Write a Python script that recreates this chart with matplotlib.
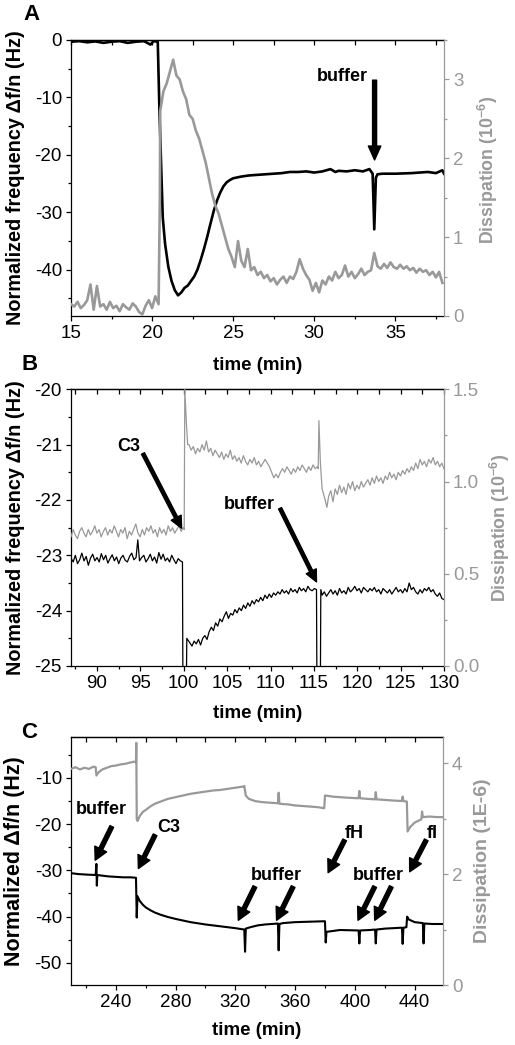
import matplotlib.pyplot as plt
import numpy as np
from matplotlib.ticker import MultipleLocator, NullFormatter

plt.rcParams['font.family'] = ['Liberation Sans', 'DejaVu Sans']
plt.rcParams['mathtext.fontset'] = 'custom'
plt.rcParams['mathtext.rm'] = 'Liberation Sans'
plt.rcParams['mathtext.bf'] = 'Liberation Sans:bold'
plt.rcParams['axes.unicode_minus'] = False

GRAY = '#999999'

# ---------------- panel A data ----------------
a_freq_t = [15.0, 15.5, 16.0, 16.5, 17.0, 17.5, 18.0, 18.5, 19.0, 19.5, 19.9, 20.1, 20.35,
            20.45, 20.66, 20.8, 21.0, 21.2, 21.4, 21.6, 21.8, 22.0, 22.2, 22.4, 22.6, 22.8,
            23.0, 23.2, 23.4, 23.6, 23.8, 24.0, 24.2, 24.4, 24.6, 24.8, 25.0, 25.5, 26.0,
            26.5, 27.0, 27.5, 28.0, 28.5, 29.0, 29.5, 30.0, 30.5, 31.0, 31.3, 31.5, 32.0,
            32.5, 33.0, 33.4, 33.6, 33.7, 33.8, 33.9, 34.2, 35.0, 36.0, 37.0, 37.5, 37.9, 38.0]
a_freq = [-0.3, -0.2, -0.4, -0.25, -0.5, -0.3, -0.2, -0.5, -0.3, -0.2, -0.8, -0.2, -0.3,
          -12.0, -31.0, -35.5, -39.5, -42.0, -43.6, -44.5, -44.0, -43.2, -42.8, -42.0, -41.2, -40.0,
          -38.3, -36.4, -34.3, -32.0, -29.8, -28.0, -26.6, -25.5, -24.8, -24.4, -24.1, -23.8, -23.6,
          -23.5, -23.4, -23.3, -23.2, -23.0, -23.0, -22.9, -23.1, -22.9, -22.5, -23.0, -22.8, -22.9,
          -22.7, -22.9, -22.5, -23.3, -33.0, -24.0, -23.4, -23.3, -23.3, -23.2, -23.0, -23.2, -22.7, -23.3]

a_diss_base = [0.15, 0.12, 0.18, 0.10, 0.14, 0.20, 0.40, 0.08, 0.38, 0.12,
               0.15, 0.08, 0.18, 0.10, 0.13, 0.06, 0.15, 0.11, 0.08, 0.16,
               0.12, 0.05, 0.02, 0.13, 0.20, 0.10, 0.25, 0.15]
a_diss_rise = [2.60, 2.85, 2.95, 3.10, 3.25, 3.05, 3.00, 2.85, 2.75, 2.55,
               2.50, 2.35, 2.25, 2.10, 1.95, 1.75, 1.55, 1.40, 1.30, 1.15,
               1.00, 0.85, 0.75]
a_diss_tail = [0.62, 0.95, 0.70, 0.62, 0.85, 0.58, 0.62, 0.52, 0.56, 0.48,
               0.52, 0.44, 0.48, 0.40, 0.46, 0.50, 0.42, 0.50, 0.47, 0.56,
               0.72, 0.60, 0.52, 0.46, 0.32, 0.42, 0.30, 0.45, 0.40, 0.50,
               0.45, 0.56, 0.48, 0.52, 0.64, 0.50, 0.56, 0.48, 0.53, 0.60,
               0.52, 0.56, 0.58, 0.80, 0.63, 0.60, 0.66, 0.61, 0.68, 0.62,
               0.60, 0.65, 0.60, 0.63, 0.58, 0.61, 0.55, 0.60, 0.56, 0.58,
               0.52, 0.56, 0.49, 0.56, 0.42]

# ---------------- panel B data ----------------
b_freq_1 = [-23.05, -23.12, -23.00, -23.15, -23.08, -22.96, -23.10, -23.02, -23.18, -23.05,
            -22.98, -23.10, -23.04, -23.12, -22.97, -23.08, -23.00, -23.14, -23.06, -22.99,
            -23.10, -23.03, -23.15, -23.05, -23.00, -23.09, -23.12, -23.02, -22.96, -23.08,
            -23.04]
b_freq_2 = [-23.10, -23.04, -23.00, -23.12, -23.06, -22.98, -23.10, -23.03, -23.14, -22.95,
            -23.07, -22.98, -23.10, -23.05, -23.12, -23.00, -23.08, -23.15, -23.06, -23.10,
            -23.12]
b_freq_3 = [-24.58, -24.64, -24.55, -24.60, -24.52, -24.62, -24.50, -24.45, -24.52, -24.38,
            -24.30, -24.36, -24.22, -24.28, -24.15, -24.20, -24.10, -24.02, -24.14, -24.05,
            -24.08, -23.98, -24.04, -23.95, -24.00, -23.90, -23.96, -23.86, -23.92, -23.82,
            -23.88, -23.80, -23.84, -23.76, -23.82, -23.72, -23.78, -23.70, -23.76, -23.68,
            -23.72, -23.66, -23.70, -23.62, -23.68, -23.64, -23.70, -23.60, -23.66, -23.62,
            -23.68, -23.58, -23.64, -23.60, -23.66, -23.56, -23.62, -23.64, -23.60, -23.62]
b_freq_4 = [-23.72, -23.66, -23.74, -23.68, -23.62, -23.70, -23.64, -23.72, -23.60, -23.68,
            -23.64, -23.70, -23.58, -23.66, -23.62, -23.56, -23.64, -23.60, -23.68, -23.58,
            -23.62, -23.66, -23.60, -23.64, -23.58, -23.66, -23.62, -23.70, -23.60, -23.64,
            -23.68, -23.62, -23.70, -23.64, -23.58, -23.66, -23.62, -23.68, -23.60, -23.66,
            -23.50, -23.62, -23.58, -23.66, -23.70, -23.62, -23.68, -23.60, -23.64, -23.58,
            -23.66, -23.62, -23.70, -23.74, -23.68, -23.78, -23.80]

b_diss_1 = [0.70, 0.74, 0.71, 0.69, 0.73, 0.75, 0.72, 0.70, 0.74, 0.71,
            0.73, 0.76, 0.72, 0.74, 0.70, 0.73, 0.75, 0.71, 0.74, 0.72,
            0.76, 0.73, 0.70, 0.74, 0.72, 0.75, 0.69, 0.73, 0.71, 0.74,
            0.77, 0.72, 0.70, 0.74, 0.71, 0.75, 0.73, 0.76, 0.72, 0.74,
            0.70, 0.75, 0.72, 0.74, 0.71, 0.76, 0.73, 0.75, 0.72, 0.74,
            0.76, 0.73, 0.75]
b_diss_2 = [1.20, 1.17, 1.19, 1.15, 1.18, 1.16, 1.20, 1.17, 1.22, 1.16,
            1.18, 1.14, 1.17, 1.15, 1.13, 1.16, 1.12, 1.15, 1.13, 1.17,
            1.12, 1.14, 1.11, 1.13, 1.10, 1.14, 1.11, 1.09, 1.12, 1.10,
            1.13, 1.09, 1.11, 1.08, 1.10, 1.12, 1.10, 1.08, 1.05, 1.02,
            1.04, 1.02, 1.05, 1.07, 1.05, 1.08, 1.06, 1.04, 1.07, 1.05,
            1.08, 1.06, 1.09, 1.07, 1.05, 1.08, 1.06, 1.09, 1.07, 1.08]
b_diss_3 = [0.92, 0.95, 0.89, 0.96, 0.93, 0.98, 0.94, 0.97, 0.93, 0.99,
            0.96, 1.00, 0.95, 0.98, 0.96, 1.00, 0.97, 0.99, 1.01, 0.98,
            1.02, 0.99, 1.03, 1.00, 1.02, 0.99, 1.03, 1.01, 1.05, 1.02,
            1.04, 1.01, 1.05, 1.03, 1.06, 1.04, 1.07, 1.05, 1.08, 1.06,
            1.10, 1.07, 1.12, 1.09, 1.11, 1.08, 1.12, 1.10, 1.13, 1.09,
            1.11, 1.08, 1.10, 1.07]

# ---------------- panel C data ----------------
c_freq_t = [210, 215, 220, 226.5, 227, 227.3, 227.6, 230, 235, 240, 245, 250, 253.5, 254, 254.5,
            256, 258, 260, 263, 266, 270, 275, 280, 290, 300, 310, 320, 326, 326.5, 327, 330,
            335, 340, 348.5, 349, 349.5, 352, 360, 370, 380, 380.5, 381, 390, 402.5, 403, 403.5,
            410, 413.5, 414, 414.5, 420, 431.5, 432, 432.5, 434.5, 435, 436, 440, 445.5, 446,
            446.5, 452, 460]
c_freq = [-30.6, -30.8, -30.9, -31.0, -28.6, -33.3, -31.0, -31.1, -31.3, -31.4, -31.5, -31.5, -31.6,
          -40.2, -35.6, -36.6, -37.4, -38.0, -38.6, -39.1, -39.6, -40.1, -40.5, -41.2, -41.7, -42.1,
          -42.5, -42.8, -47.6, -42.6, -42.3, -41.9, -41.7, -41.5, -47.3, -41.6, -41.4, -41.2, -41.1,
          -41.0, -45.6, -43.3, -42.9, -43.0, -45.8, -43.0, -42.9, -42.8, -45.8, -42.8, -42.6, -42.4,
          -45.9, -42.4, -42.3, -40.0, -40.6, -41.2, -41.4, -45.8, -41.5, -41.6, -41.6]

c_diss_t = [210, 213, 216, 219, 222, 225, 226.5, 227, 228.5, 231, 234, 237, 240, 243, 246, 249, 252,
            253.5, 253.7, 254.0, 254.6, 256, 258, 260, 263, 266, 270, 275, 280, 285, 290, 295, 300,
            305, 310, 315, 320, 325, 326, 327, 329, 333, 338, 343, 348.5, 349, 349.5, 355, 360, 365,
            370, 375, 379.5, 380, 385, 390, 395, 402.5, 403, 403.5, 408, 413.5, 414, 414.5, 420, 425,
            431.5, 432, 432.5, 434.8, 435.3, 437, 440, 444.5, 445, 445.5, 450, 455, 460]
c_diss = [3.90, 3.93, 3.89, 3.92, 3.90, 3.94, 3.93, 3.78, 3.84, 3.89, 3.92, 3.95, 3.96, 3.98, 3.99,
          4.01, 4.03, 4.02, 4.37, 3.00, 2.96, 3.05, 3.12, 3.16, 3.22, 3.27, 3.31, 3.36, 3.39, 3.42,
          3.45, 3.47, 3.49, 3.51, 3.52, 3.54, 3.56, 3.58, 3.59, 3.42, 3.36, 3.32, 3.30, 3.29, 3.28,
          3.47, 3.27, 3.26, 3.24, 3.23, 3.22, 3.21, 3.19, 3.42, 3.40, 3.39, 3.38, 3.37, 3.50, 3.37,
          3.36, 3.35, 3.48, 3.35, 3.34, 3.33, 3.32, 3.40, 3.32, 3.31, 2.77, 2.85, 2.93, 2.99, 3.13,
          3.03, 3.04, 3.03, 3.03]

# assemble sampled segments
a_diss_t = np.concatenate([np.linspace(15.0, 20.4, len(a_diss_base)), [20.48],
                           np.linspace(20.5, 24.9, len(a_diss_rise)),
                           np.linspace(25.1, 37.9, len(a_diss_tail))])
a_diss = np.concatenate([a_diss_base, [1.5], a_diss_rise, a_diss_tail])

b_freq_t = np.concatenate([np.linspace(87.0, 94.5, len(b_freq_1)), [94.7],
                           np.linspace(94.9, 99.85, len(b_freq_2)), [99.9, 100.3, 100.35],
                           np.linspace(100.7, 115.3, len(b_freq_3)), [115.35, 115.75, 115.8],
                           np.linspace(115.95, 130.0, len(b_freq_4))])
b_freq = np.concatenate([b_freq_1, [-22.72], b_freq_2, [-25.3, -25.3, -24.5],
                         b_freq_3, [-25.3, -25.3, -23.62], b_freq_4])
b_diss_t = np.concatenate([np.linspace(87.0, 99.95, len(b_diss_1)), [100.05, 100.12, 100.3, 100.45],
                           np.linspace(100.6, 115.4, len(b_diss_2)),
                           [115.5, 115.58, 115.75, 115.95, 116.3, 116.5],
                           np.linspace(116.7, 130.0, len(b_diss_3))])
b_diss = np.concatenate([b_diss_1, [0.74, 1.50, 1.32, 1.20], b_diss_2,
                         [1.07, 1.33, 1.10, 0.96, 0.90, 0.86], b_diss_3])

TICK_FS = 13.5


def style(ax, ax2, xlim, ylim, y2lim, xt, yt, y2t):
    ax.set_xlim(*xlim)
    ax.set_ylim(*ylim)
    ax2.set_ylim(*y2lim)
    ax.xaxis.set_major_locator(MultipleLocator(xt[0]))
    ax.xaxis.set_minor_locator(MultipleLocator(xt[1]))
    ax.yaxis.set_major_locator(MultipleLocator(yt[0]))
    ax.yaxis.set_minor_locator(MultipleLocator(yt[1]))
    ax2.yaxis.set_major_locator(MultipleLocator(y2t[0]))
    ax2.yaxis.set_minor_locator(MultipleLocator(y2t[1]))
    ax.tick_params(which='both', direction='out', labelsize=TICK_FS, width=0.9, top=False, right=False, pad=3)
    ax.tick_params(which='major', length=3.5)
    ax.tick_params(which='minor', length=2.5)
    ax2.tick_params(which='both', direction='out', colors=GRAY, labelsize=TICK_FS, width=0.9, pad=3)
    ax2.tick_params(which='major', length=3.5)
    ax2.tick_params(which='minor', length=2.5)
    ax.spines['right'].set_visible(False)
    for s in ['left', 'top', 'bottom']:
        ax2.spines[s].set_visible(False)
        ax.spines[s].set_linewidth(0.9)
    ax2.spines['right'].set_color(GRAY)
    ax2.spines['right'].set_linewidth(0.9)
    top = ax.secondary_xaxis('top')
    top.xaxis.set_major_locator(MultipleLocator(xt[0]))
    top.xaxis.set_minor_locator(MultipleLocator(xt[1]))
    top.xaxis.set_major_formatter(NullFormatter())
    top.tick_params(which='both', direction='in', length=3.5, width=0.9)
    top.spines['top'].set_linewidth(0.9)


def arrow(ax, ax2, tail, tip, w, hw, hl):
    ax2.annotate('', xy=tip, xytext=tail, xycoords=ax.transData, textcoords=ax.transData,
                 arrowprops=dict(facecolor='black', edgecolor='black', width=w,
                                 headwidth=hw, headlength=hl, shrink=0))


def label(ax, ax2, xy, s):
    ax2.text(xy[0], xy[1], s, transform=ax.transData, ha='center', va='center',
             fontsize=13, fontweight='bold')


fig = plt.figure(figsize=(5.15, 10.45), dpi=100)
W, H = 515, 1045
axA = fig.add_axes([71 / W, 1 - 316 / H, 373 / W, 276 / H])
axB = fig.add_axes([71 / W, 1 - 666 / H, 373 / W, 276.7 / H])
axC = fig.add_axes([71 / W, 1 - 985 / H, 372 / W, 247.7 / H])
axA2, axB2, axC2 = axA.twinx(), axB.twinx(), axC.twinx()

# panel A
axA.plot(a_freq_t, a_freq, color='black', lw=1.9)
axA2.plot(a_diss_t, a_diss, color=GRAY, lw=1.9)
style(axA, axA2, (15, 38), (-48.1, 0), (0, 3.5), (5, 2.5), (10, 5), (1, 0.5))
axA.set_ylabel('Normalized frequency \u0394f/n (Hz)', fontsize=14.3, fontweight='bold')
axA2.set_ylabel(r'Dissipation (10$^{\mathbf{-6}}$)', fontsize=12.8, fontweight='bold', color=GRAY)
axA.set_xlabel('time (min)', fontsize=13.5, fontweight='bold')
label(axA, axA2, (31.7, -6.3), 'buffer')
arrow(axA, axA2, (33.72, -7.0), (33.72, -20.9), 2.9, 9, 10)

# panel B
axB.plot(b_freq_t, b_freq, color='black', lw=0.9)
axB2.plot(b_diss_t, b_diss, color=GRAY, lw=0.9)
style(axB, axB2, (87, 130), (-25, -20), (0, 1.5), (5, 2.5), (1, 0.5), (0.5, 0.25))
axB.set_ylabel('Normalized frequency \u0394f/n (Hz)', fontsize=14.3, fontweight='bold')
axB2.set_ylabel(r'Dissipation (10$^{\mathbf{-6}}$)', fontsize=12.8, fontweight='bold', color=GRAY)
axB.set_xlabel('time (min)', fontsize=13.5, fontweight='bold')
label(axB, axB2, (93.7, -21.04), 'C3')
arrow(axB, axB2, (95.3, -21.16), (99.75, -22.51), 2.4, 8, 8.5)
label(axB, axB2, (107.6, -22.09), 'buffer')
arrow(axB, axB2, (111.1, -22.15), (115.3, -23.48), 2.4, 8, 8.5)

# panel C
axC.plot(c_freq_t, c_freq, color='black', lw=1.5)
axC2.plot(c_diss_t, c_diss, color=GRAY, lw=1.6)
style(axC, axC2, (210, 459), (-54.8, -1.2), (0, 4.47), (40, 20), (10, 5), (2, 1))
axC.set_ylabel('Normalized \u0394f/n (Hz)', fontsize=15.5, fontweight='bold')
axC2.set_ylabel('Dissipation (1E-6)', fontsize=14, fontweight='bold', color=GRAY)
axC.set_xlabel('time (min)', fontsize=13.5, fontweight='bold')
label(axC, axC2, (230.6, -16.9), 'buffer')
arrow(axC, axC2, (237.3, -20.5), (226.2, -27.8), 2.9, 9.5, 9)
label(axC, axC2, (275.2, -20.7), 'C3')
arrow(axC, axC2, (266.3, -22.3), (255.1, -29.6), 2.9, 9.5, 9)
label(axC, axC2, (347.6, -31.0), 'buffer')
arrow(axC, axC2, (333.1, -33.5), (322.0, -40.8), 2.9, 9.5, 9)
arrow(axC, axC2, (358.7, -33.5), (347.6, -40.8), 2.9, 9.5, 9)
label(axC, axC2, (399.9, -22.0), 'fH')
arrow(axC, axC2, (393.2, -23.4), (382.1, -30.5), 2.9, 9.5, 9)
label(axC, axC2, (415.5, -31.0), 'buffer')
arrow(axC, axC2, (413.3, -33.5), (402.1, -40.8), 2.9, 9.5, 9)
arrow(axC, axC2, (424.4, -33.5), (413.3, -40.8), 2.9, 9.5, 9)
label(axC, axC2, (451.8, -22.0), 'fI')
arrow(axC, axC2, (447.8, -23.4), (436.7, -30.3), 2.9, 9.5, 9)

# label positions
for ax, ax2, xl in [(axA, axA2, -0.149), (axB, axB2, -0.141), (axC, axC2, -0.148)]:
    ax.yaxis.set_label_coords(-0.123, 0.5)
    ax.xaxis.set_label_coords(0.5, xl)
axA2.yaxis.set_label_coords(1.086, 0.53)
axB2.yaxis.set_label_coords(1.118, 0.5)
axC2.yaxis.set_label_coords(1.083, 0.5)

fig.text(32 / W, 1 - 15 / H, 'A', fontsize=16, fontweight='bold', ha='center', va='center')
fig.text(30 / W, 1 - 365 / H, 'B', fontsize=16, fontweight='bold', ha='center', va='center')
fig.text(29 / W, 1 - 733 / H, 'C', fontsize=16, fontweight='bold', ha='center', va='center')

fig.savefig('out.png', dpi=100)
